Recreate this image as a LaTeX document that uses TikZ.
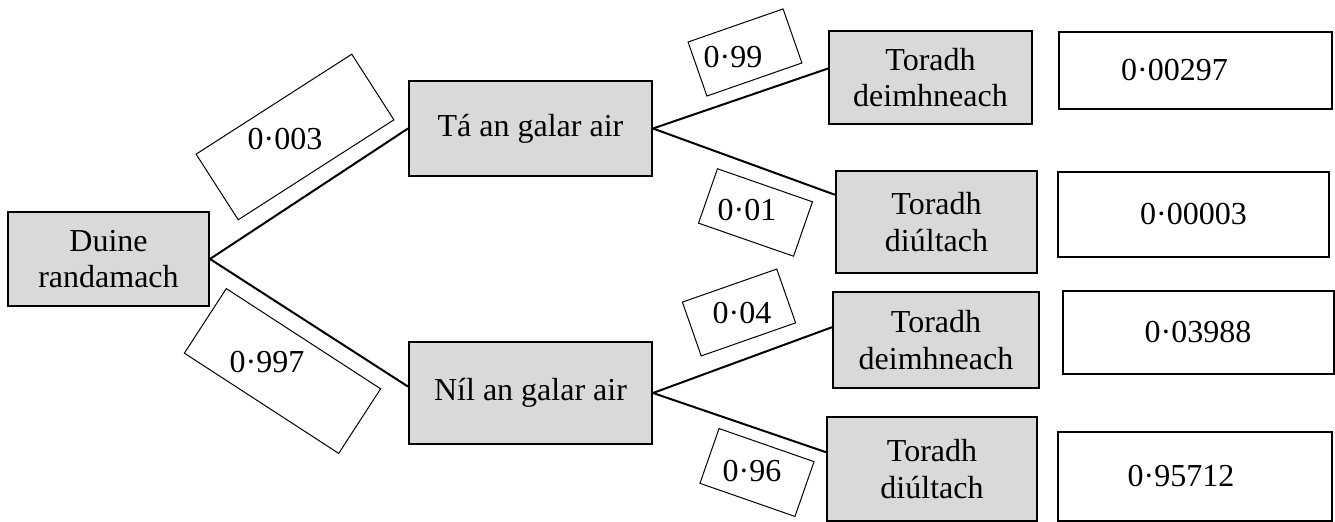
\documentclass[tikz,border=0pt]{standalone}
\usepackage{fontspec}
\setmainfont{Liberation Serif}
\usetikzlibrary{positioning}
\tikzset{
  event/.style = {rectangle, draw=black, fill=black!15,
      line width=1pt, align=center, inner sep=0pt},
  prob/.style = {rectangle, draw=black, fill=white,
      line width=0.5pt, inner sep=0pt, rotate=#1},
  prob/.default = 0, % tilt of the label box
  result/.style = {rectangle, draw=black, fill=white,
      line width=1pt, inner sep=0pt},
  branch/.style = {line width=1pt},
}

\begin{document}
\begin{tikzpicture}[x=0.5pt, y=-0.5pt, font=\fontsize{16}{18.3}\selectfont]
  \useasboundingbox (0,0) rectangle (1335,522);

  % events
  \node[event, minimum width=100.5pt, minimum height=47pt] (duine) at (108.5,259) {Duine\\randamach};
  \node[event, minimum width=121.5pt, minimum height=47.5pt] (ta) at (530.5,128.5) {Tá an galar air};
  \node[event, minimum width=121.5pt, minimum height=51pt] (nil) at (530.5,393) {Níl an galar air};

  \node[event, minimum width=101.5pt, minimum height=46.5pt] (tpos) at (930.5,77.5) {Toradh\\deimhneach};
  \node[event, minimum width=100.5pt, minimum height=51pt] (tneg) at (936.5,222) {Toradh\\diúltach};
  \node[event, minimum width=103pt, minimum height=48pt] (npos) at (936,340) {Toradh\\deimhneach};
  \node[event, minimum width=105pt, minimum height=52pt] (nneg) at (932,469) {Toradh\\diúltach};

  % branches
  \draw[branch] (duine.east) -- (ta.west);
  \draw[branch] (duine.east) -- (nil.177);
  \draw[branch] (ta.east) -- (tpos.175);
  \draw[branch] (ta.east) -- (tneg.165.5);
  \draw[branch] (nil.east) -- (npos.173.4);
  \draw[branch] (nil.east) -- (nneg.171.9);

  % probabilities on the branches
  \node[prob=32.7, minimum width=92.5pt, minimum height=39pt] (pta) at (295,137) {};
  \node (ptatext) at (285,139) {0·003};
  \node[prob=-33, minimum width=92pt, minimum height=38.5pt] (pnil) at (282.5,371) {};
  \node (pniltext) at (267,362) {0·997};
  \node[prob=19.2, minimum width=50.3pt, minimum height=28.6pt] (ptpos) at (745,52.5) {};
  \node (ptpostext) at (733,57) {0·99};
  \node[prob=-19.2, minimum width=50.3pt, minimum height=28.8pt] (ptneg) at (755.5,212.5) {};
  \node (ptnegtext) at (747,210) {0·01};
  \node[prob=19.3, minimum width=50pt, minimum height=28.5pt] (pnpos) at (739,312.5) {};
  \node (pnpostext) at (742,313) {0·04};
  \node[prob=-19.2, minimum width=50.3pt, minimum height=29pt] (pnneg) at (757,472.5) {};
  \node (pnnegtext) at (752,471) {0·96};

  % results
  \node[result, minimum width=136.5pt, minimum height=38.5pt] (rtpos) at (1195.5,70.5) {0·00297\kern21pt};
  \node[result, minimum width=135.5pt, minimum height=42.5pt] (rtneg) at (1193.5,214.5) {0·00003};
  \node[result, minimum width=135.5pt, minimum height=41.5pt] (rnpos) at (1198,332.5) {0·03988};
  \node[result, minimum width=137pt, minimum height=44.5pt] (rnneg) at (1195,476.5) {0·95712\kern14pt};
\end{tikzpicture}
\end{document}
